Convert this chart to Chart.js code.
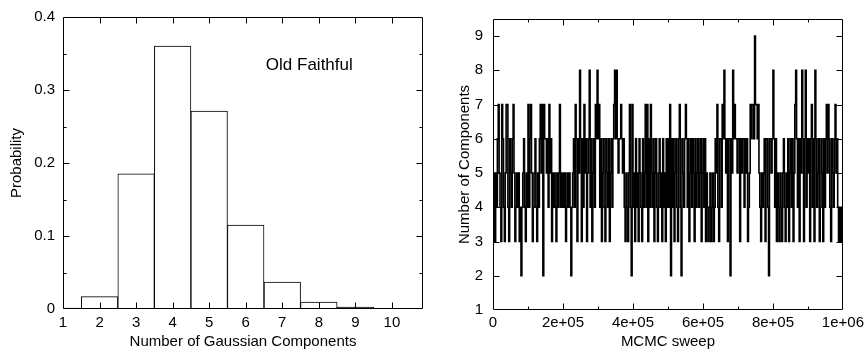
<!DOCTYPE html>
<html><head><meta charset="utf-8">
<script src="https://cdn.jsdelivr.net/npm/chart.js@4/dist/chart.umd.min.js"></script>
<style>
html,body{margin:0;padding:0;background:#fff;}
#wrap{position:relative;width:868px;height:351px;overflow:hidden;background:#fff;}
canvas{position:absolute;top:0;}
#c1{left:0;}
#c2{left:434px;}
</style></head><body>
<div id="wrap"><canvas id="c1" width="434" height="351"></canvas><canvas id="c2" width="434" height="351"></canvas></div>
<script>
// ---- Left panel: posterior of number of components ----
const components = [1, 2, 3, 4, 5, 6, 7, 8, 9, 10];
const probabilities = [0.0012, 0.017, 0.185, 0.36, 0.271, 0.115, 0.037, 0.0095, 0.0025, 0.001];
const componentTickLabels = ['1', '2', '3', '4', '5', '6', '7', '8', '9', '10'];
const probabilityTickLabels = ['0', '0.1', '0.2', '0.3', '0.4'];
const histogramNote = 'Old Faithful';

// ---- Right panel: MCMC trace (one value every sweepStep sweeps) ----
const sweepStep = 2500;
const traceComponents = [
  4,5,3,5,4,6,7,5,4,3,7,6,4,3,5,7,7,4,3,6,
  5,4,6,7,5,3,4,5,4,5,3,4,2,4,5,6,4,3,5,4,
  7,4,6,7,5,3,4,5,6,4,3,5,4,6,7,5,7,2,7,6,
  6,5,6,4,7,5,6,3,5,4,5,4,3,5,4,5,7,4,5,4,
  5,4,5,3,4,5,4,5,4,2,4,5,6,4,7,6,3,6,5,8,
  6,3,6,4,7,5,6,3,5,6,8,4,6,3,5,6,4,7,6,8,
  6,7,4,6,3,5,6,4,3,6,5,4,6,3,5,6,4,6,7,8,
  6,8,6,5,6,6,7,6,5,6,4,3,5,4,3,5,7,4,2,7,
  4,5,3,6,4,5,3,6,5,4,3,6,4,5,7,4,7,3,6,4,
  7,5,4,6,3,5,6,4,3,5,6,4,5,3,6,4,5,3,6,4,
  6,4,7,2,6,4,6,3,5,6,4,3,6,7,4,2,6,5,4,6,
  7,6,4,6,3,5,6,4,6,5,3,6,4,5,6,4,5,6,3,5,
  6,4,6,3,5,4,3,4,5,3,4,5,3,4,6,5,7,4,3,6,
  6,4,7,6,8,6,5,6,3,6,6,2,6,5,8,6,7,6,6,5,
  6,6,3,6,5,6,6,4,6,5,6,3,4,5,7,6,7,7,6,9,
  7,7,6,7,5,4,3,5,4,5,6,3,6,6,4,2,6,6,5,6,
  8,6,4,6,3,5,4,3,5,4,3,5,6,4,3,5,4,6,3,5,
  6,4,6,3,5,7,8,6,4,6,3,6,5,8,6,3,6,8,4,6,
  5,6,3,6,7,4,6,3,8,6,4,5,6,3,4,6,5,3,6,4,
  6,7,5,7,6,4,3,6,5,4,6,7,5,6,4,3,4,3,4,3,
  3
];
const sweepTickLabels = ['0', '2e+05', '4e+05', '6e+05', '8e+05', '1e+06'];
const countTickLabels = ['1', '2', '3', '4', '5', '6', '7', '8', '9'];

const FONT = "'Liberation Sans', Arial, Helvetica, sans-serif";
const tickFont = { family: FONT, size: 15 };
const titleFont = { family: FONT, size: 15 };

// Frame + inward tick marks (gnuplot style), drawn from the chart's own scales
const frameTicks = {
  id: 'frameTicks',
  afterDatasetsDraw(chart, args, opts) {
    const { ctx, chartArea: a, scales: { x, y } } = chart;
    const L = Math.round(a.left) + 0.5, R = Math.round(a.right) - 0.5;
    const T = Math.round(a.top) + 0.5, B = Math.round(a.bottom) - 0.5;
    ctx.save();
    ctx.strokeStyle = '#000';
    ctx.lineWidth = 1;
    ctx.beginPath();
    ctx.rect(L, T, R - L, B - T);
    ctx.stroke();
    ctx.beginPath();
    for (const t of opts.xTicks || []) {
      const px = Math.round(x.getPixelForValue(t.v)) + 0.5;
      if (px <= L + 1 || px >= R - 1) continue;
      ctx.moveTo(px, B); ctx.lineTo(px, B - t.len);
      ctx.moveTo(px, T); ctx.lineTo(px, T + t.len);
    }
    for (const t of opts.yTicks || []) {
      const py = Math.round(y.getPixelForValue(t.v)) + 0.5;
      if (py <= T + 1 || py >= B - 1) continue;
      ctx.moveTo(L, py); ctx.lineTo(L + t.len, py);
      ctx.moveTo(R, py); ctx.lineTo(R - t.len, py);
    }
    ctx.stroke();
    if (opts.note) {
      ctx.fillStyle = '#000';
      ctx.font = "17px " + FONT;
      ctx.textAlign = 'left';
      ctx.textBaseline = 'alphabetic';
      ctx.fillText(opts.note.text, x.getPixelForValue(opts.note.x), y.getPixelForValue(opts.note.y));
    }
    ctx.restore();
  }
};

function ticksList(min, max, step, majorEvery, majorLen, minorLen) {
  const out = [];
  const n = Math.round((max - min) / step);
  for (let i = 0; i <= n; i++) {
    out.push({ v: min + i * step, len: (i % majorEvery === 0) ? majorLen : minorLen });
  }
  return out;
}

// ---- Left chart ----
new Chart(document.getElementById('c1'), {
  type: 'bar',
  data: {
    datasets: [{
      data: components.map((c, i) => ({ x: c, y: probabilities[i] })),
      backgroundColor: '#fff',
      borderColor: '#000',
      borderWidth: 1,
      borderSkipped: 'bottom',
      barPercentage: 1,
      categoryPercentage: 1,
      clip: 0
    }]
  },
  options: {
    responsive: false,
    animation: false,
    events: [],
    layout: { padding: { left: 0, top: 14, right: 11, bottom: 0 } },
    plugins: {
      legend: { display: false },
      tooltip: { enabled: false },
      frameTicks: {
        xTicks: ticksList(1, 10, 1, 1, 6, 6),
        yTicks: ticksList(0, 0.4, 0.05, 2, 6, 3),
        note: { text: histogramNote, x: 6.55, y: 0.328 }
      }
    },
    scales: {
      x: {
        type: 'linear',
        offset: false,
        min: 1, max: 10.85,
        grid: { display: false, drawTicks: false },
        border: { display: false },
        ticks: {
          stepSize: 1, includeBounds: false, autoSkip: false, maxRotation: 0,
          padding: 5, color: '#000', font: tickFont,
          callback: (v) => { const i = components.indexOf(v); return i >= 0 ? componentTickLabels[i] : ''; }
        },
        title: { display: true, text: 'Number of Gaussian Components', color: '#000', font: titleFont, padding: { top: 0, bottom: 0 } },
        afterFit: (s) => { s.height = 42; }
      },
      y: {
        min: 0, max: 0.4,
        grid: { display: false, drawTicks: false },
        border: { display: false },
        ticks: {
          stepSize: 0.1, includeBounds: false, padding: 8, color: '#000', font: tickFont,
          callback: (v) => probabilityTickLabels[Math.round(v * 10)] ?? ''
        },
        title: { display: true, text: 'Probability', color: '#000', font: titleFont, padding: { top: 8, bottom: 0 } },
        afterFit: (s) => { s.width = 63; }
      }
    }
  },
  plugins: [frameTicks]
});

// ---- Right chart ----
new Chart(document.getElementById('c2'), {
  type: 'line',
  data: {
    datasets: [{
      data: traceComponents.map((k, i) => ({ x: i * sweepStep, y: k })),
      borderColor: '#000',
      borderWidth: 1.6,
      pointRadius: 0,
      stepped: true,
      fill: false,
      tension: 0,
      clip: 0
    }]
  },
  options: {
    responsive: false,
    animation: false,
    events: [],
    parsing: false,
    layout: { padding: { left: 0, top: 16, right: 20, bottom: 0 } },
    plugins: {
      legend: { display: false },
      tooltip: { enabled: false },
      frameTicks: {
        xTicks: ticksList(0, 1000000, 100000, 2, 6, 3),
        yTicks: ticksList(1, 9, 1, 1, 6, 6)
      }
    },
    scales: {
      x: {
        type: 'linear',
        min: 0, max: 1000000,
        grid: { display: false, drawTicks: false },
        border: { display: false },
        ticks: {
          stepSize: 200000, autoSkip: false, maxRotation: 0, padding: 4, color: '#000', font: tickFont,
          callback: (v) => sweepTickLabels[Math.round(v / 200000)] ?? ''
        },
        title: { display: true, text: 'MCMC sweep', color: '#000', font: titleFont, padding: { top: 0, bottom: 0 } },
        afterFit: (s) => { s.height = 41; }
      },
      y: {
        min: 1, max: 9.5,
        grid: { display: false, drawTicks: false },
        border: { display: false },
        ticks: {
          stepSize: 1, includeBounds: false, padding: 10, color: '#000', font: tickFont,
          callback: (v) => countTickLabels[Math.round(v) - 1] ?? ''
        },
        title: { display: true, text: 'Number of Components', color: '#000', font: titleFont, padding: { top: 22, bottom: 0 } },
        afterFit: (s) => { s.width = 59; }
      }
    }
  },
  plugins: [frameTicks]
});
</script>
</body></html>
